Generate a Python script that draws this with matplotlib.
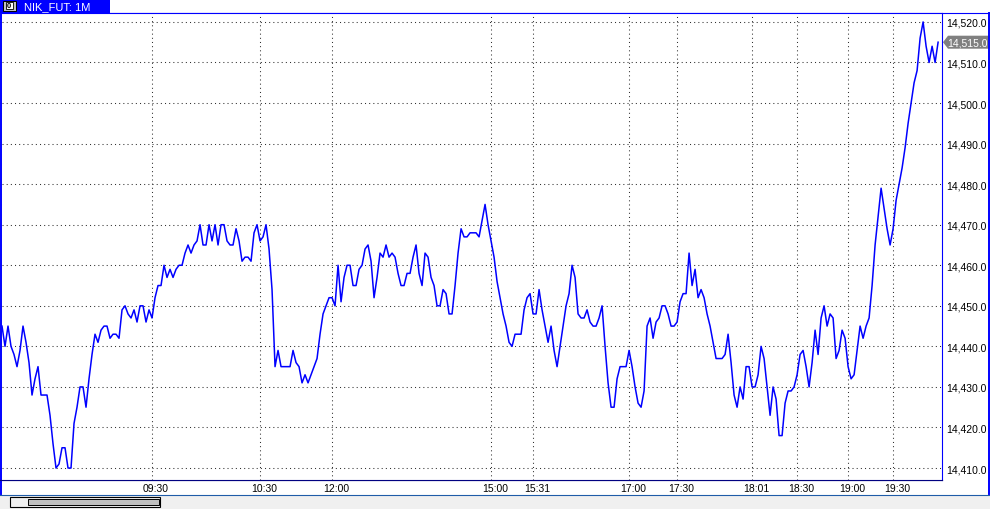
import matplotlib
matplotlib.use("Agg")
import matplotlib.pyplot as plt
import matplotlib.transforms as mtransforms
from matplotlib.patches import Rectangle, Polygon

plt.rcParams['font.family'] = ['Liberation Sans', 'DejaVu Sans']

# 1M closes, NIK_FUT (roughly one value every 2 bars)
symbol = "NIK_FUT: 1M"
closes = [
    14445, 14440, 14445, 14440, 14438, 14435, 14439, 14445, 14441, 14436,
    14428, 14432, 14435, 14428, 14428, 14428, 14423, 14416, 14410, 14411,
    14415, 14415, 14410, 14410, 14421, 14425, 14430, 14430, 14425, 14432,
    14438, 14443, 14441, 14444, 14445, 14445, 14442, 14443, 14443, 14442,
    14449, 14450, 14448, 14447, 14449, 14446, 14450, 14450, 14446, 14449,
    14447, 14452, 14455, 14455, 14460, 14457, 14459, 14457, 14459, 14460,
    14460, 14463, 14465, 14463, 14465, 14466, 14470, 14465, 14465, 14470,
    14466, 14470, 14465, 14470, 14470, 14466, 14465, 14465, 14469, 14466,
    14461, 14462, 14462, 14461, 14468, 14470, 14466, 14467, 14470, 14464,
    14454, 14435, 14439, 14435, 14435, 14435, 14435, 14439, 14436, 14435,
    14431, 14433, 14431, 14433, 14435, 14437, 14443, 14448, 14450, 14452,
    14452, 14450, 14460, 14451, 14457, 14460, 14460, 14455, 14455, 14459,
    14460, 14464, 14465, 14461, 14452, 14457, 14463, 14462, 14465, 14462,
    14463, 14462, 14458, 14455, 14455, 14458, 14458, 14462, 14465, 14458,
    14455, 14463, 14462, 14457, 14455, 14450, 14450, 14454, 14453, 14448,
    14448, 14455, 14463, 14469, 14467, 14467, 14468, 14468, 14468, 14467,
    14471, 14475, 14470, 14466, 14462, 14456, 14452, 14448, 14445, 14441,
    14440, 14443, 14443, 14443, 14449, 14452, 14453, 14448, 14448, 14454,
    14449, 14445, 14441, 14445, 14439, 14435, 14440, 14445, 14450, 14453,
    14460, 14457, 14448, 14447, 14447, 14449, 14446, 14445, 14445, 14447,
    14450, 14440, 14431, 14425, 14425, 14432, 14435, 14435, 14435, 14439,
    14435, 14430, 14426, 14425, 14429, 14445, 14447, 14442, 14446, 14447,
    14450, 14450, 14448, 14445, 14445, 14446, 14451, 14453, 14453, 14463,
    14455, 14459, 14452, 14454, 14452, 14448, 14445, 14441, 14437, 14437,
    14437, 14438, 14443, 14436, 14428, 14425, 14430, 14427, 14435, 14435,
    14430, 14430, 14433, 14440, 14437, 14430, 14423, 14430, 14427, 14418,
    14418, 14426, 14429, 14429, 14430, 14433, 14438, 14439, 14435, 14430,
    14436, 14444, 14438, 14447, 14450, 14445, 14448, 14447, 14437, 14439,
    14444, 14442, 14435, 14432, 14433, 14439, 14445, 14442, 14445, 14447,
    14455, 14465, 14472, 14479, 14474, 14469, 14465, 14469, 14476, 14480,
    14484, 14489, 14495, 14500, 14505, 14508, 14516, 14520, 14514, 14510,
    14514, 14510, 14515,
]

# session labels (bar index where each label sits)
tick_bars = [50, 86, 110, 163, 177, 209, 225, 250, 265, 282, 297]
tick_labels = ["09:30", "10:30", "12:00", "15:00", "15:31", "17:00",
               "17:30", "18:01", "18:30", "19:00", "19:30"]
price_levels = [14410, 14420, 14430, 14440, 14450, 14460,
                14470, 14480, 14490, 14500, 14510, 14520]

W, H = 990, 510
BLUE = '#0000ff'
NAVY = '#000080'

fig = plt.figure(figsize=(W / 100, H / 100), dpi=100)
fig.patch.set_facecolor('white')

# window chrome drawn in pixel coordinates
deco = fig.add_axes([0, 0, 1, 1])
deco.set_xlim(0, W)
deco.set_ylim(H, 0)
deco.axis('off')

ax = fig.add_axes([1.5 / W, (H - 481) / H, (942 - 1.5) / W, (481 - 14) / H])
ax.set_facecolor('white')

ax.plot(range(len(closes)), closes, color=BLUE, lw=1.1)

ax.set_xlim(-0.17, 313.3)
ax.set_ylim(14407.05, 14522.2)

ax.set_xticks(tick_bars)
ax.set_xticklabels(tick_labels)
ax.set_yticks(price_levels)
ax.set_yticklabels([f"{p:,.1f}" for p in price_levels])
ax.yaxis.tick_right()
ax.tick_params(axis='y', length=0, pad=3, labelsize=7.5, colors='black')
ax.tick_params(axis='x', length=0, pad=2.5, labelsize=7.5, colors='black')
shift = mtransforms.ScaledTranslation(0.04, 0, fig.dpi_scale_trans)
for lab in ax.get_xticklabels():
    lab.set_transform(lab.get_transform() + shift)

ax.grid(True, color='#303030', linestyle=(0, (1, 3)), linewidth=0.75)

ax.spines['left'].set_visible(False)
ax.spines['top'].set_color(BLUE)
ax.spines['top'].set_linewidth(0.8)
ax.spines['right'].set_color(BLUE)
ax.spines['right'].set_linewidth(0.8)
ax.spines['bottom'].set_color(NAVY)
ax.spines['bottom'].set_linewidth(0.8)

# title tab
deco.add_patch(Rectangle((0, 0), 110, 13.5, facecolor=BLUE, edgecolor='none'))
deco.add_patch(Rectangle((2.5, 1.5), 13, 10, facecolor='#c0c0c0', edgecolor='black', lw=0.7))
deco.add_patch(Rectangle((5.5, 3), 7, 7, facecolor='white', edgecolor='black', lw=0.6))
deco.text(9, 6.8, "0", fontsize=5.5, fontweight='bold', ha='center', va='center', color='black')
deco.text(24, 7, symbol, fontsize=8, color='white', ha='left', va='center')

# frame lines
deco.plot([110, W], [14, 14], color=BLUE, lw=0.8)
deco.plot([1, 1], [0, 495], color=BLUE, lw=1.4)
deco.plot([988.5, 988.5], [14, 495], color=BLUE, lw=1.4)
deco.plot([0, 942], [481, 481], color=NAVY, lw=0.8)

# scrollbar strip
deco.add_patch(Rectangle((0, 495.5), W, 15, facecolor='#f0f0f0', edgecolor='none'))
deco.plot([0, W], [495.5, 495.5], color='#1f5ca8', lw=0.8)
deco.add_patch(Rectangle((10, 497.5), 150, 10, facecolor='#f0f0f0', edgecolor='black', lw=0.8))
deco.add_patch(Rectangle((28, 499.5), 130.5, 6, facecolor='#c0c0c0', edgecolor='black', lw=0.7))

# last price tag
fig.canvas.draw()
last = closes[-1]
yc = H - ax.transData.transform((0, last))[1]
deco.add_patch(Polygon([(943, yc), (948, yc - 6.5), (W, yc - 6.5), (W, yc + 6.5), (948, yc + 6.5)],
                       closed=True, facecolor='#808080', edgecolor='none'))
deco.text(947, yc, f"{last:,.1f}", fontsize=7.5, color='white', ha='left', va='center')

fig.savefig('out.png', dpi=100)
